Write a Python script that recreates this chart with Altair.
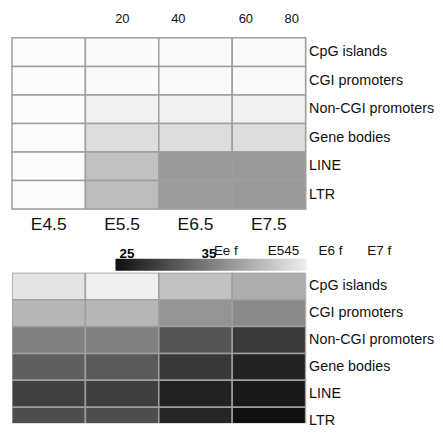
import altair as alt
import pandas as pd

rows = ["CpG islands", "CGI promoters", "Non-CGI promoters", "Gene bodies", "LINE", "LTR"]
stages = ["E4.5", "E5.5", "E6.5", "E7.5"]

# upper heatmap (light = low)
top_vals = [
    [2.4, 4, 4, 4],
    [2.4, 4, 4, 4],
    [2.4, 10, 10, 10],
    [2.4, 27, 27, 27],
    [2.4, 49, 79, 79],
    [2.4, 52, 78, 79],
]
# lower heatmap (dark = low)
bottom_vals = [
    [45.66, 46.9, 42.12, 40.04],
    [40.98, 40.98, 37.44, 36.40],
    [35.36, 35.36, 30.88, 28.07],
    [31.92, 31.40, 27.87, 25.58],
    [28.70, 28.49, 25.58, 24.64],
    [30.16, 30.16, 26.0, 23.81],
]

top_axis_labels = ["20", "40", "60", "80"]
top_axis_offsets = [74, 56.5, 50.6, 23]
bottom_axis_labels = ["Ee f", "E545", "E6 f", "E7 f"]
bottom_axis_offsets = [166, 146.4, 123.6, 98.9]
bottom_legend_values = [25, 35]

FONT = "Liberation Sans"
STROKE = "#9f9f9f"
W = 295


def frame(vals):
    return pd.DataFrame(
        [{"row": r, "stage": s, "v": vals[i][j]} for i, r in enumerate(rows) for j, s in enumerate(stages)]
    )


def label_expr(labels):
    expr = "''"
    for s, lab in reversed(list(zip(stages, labels))):
        expr = f"datum.value === '{s}' ? '{lab}' : ({expr})"
    return expr


def offset_cond(offsets):
    return {
        "condition": [{"test": f"datum.value === '{s}'", "value": o} for s, o in zip(stages[:-1], offsets[:-1])],
        "value": offsets[-1],
    }


y_axis = alt.Axis(orient="right", title=None, ticks=False, domain=False, labelFontSize=14.4,
                  labelPadding=3, labelColor="#111", labelFont=FONT, labelLimit=300)

df_top = frame(top_vals)
df_bottom = frame(bottom_vals)

rect_top = alt.Chart(df_top).mark_rect(stroke=STROKE, strokeWidth=1.5).encode(
    x=alt.X("stage:N", sort=stages, scale=alt.Scale(paddingInner=0, paddingOuter=0),
            axis=alt.Axis(orient="bottom", title=None, ticks=False, domain=False, labelAngle=0,
                          labelFontSize=17.5, labelPadding=7, labelColor="#111", labelFont=FONT)),
    y=alt.Y("row:N", sort=rows, scale=alt.Scale(paddingInner=0, paddingOuter=0), axis=y_axis),
    color=alt.Color("v:Q", scale=alt.Scale(domain=[0, 80], range=["#ffffff", "#999999"],
                                           interpolate="rgb", clamp=True), legend=None),
)

labels_top = alt.Chart(df_top).mark_rect(opacity=0).encode(
    x=alt.X("stage:N", sort=stages, scale=alt.Scale(paddingInner=0, paddingOuter=0),
            axis=alt.Axis(orient="top", title=None, ticks=False, domain=False, labelAngle=0,
                          labelExpr=label_expr(top_axis_labels), labelOffset=offset_cond(top_axis_offsets),
                          labelFontSize=13, labelPadding=12, labelColor="#111", labelFont=FONT)),
    y=alt.Y("row:N", sort=rows, scale=alt.Scale(paddingInner=0, paddingOuter=0), axis=y_axis),
)

top = alt.layer(rect_top, labels_top).resolve_scale(x="independent").resolve_axis(x="independent").properties(
    width=W, height=172)

bottom = alt.Chart(df_bottom).mark_rect(stroke=STROKE, strokeWidth=1.5, clip=True).encode(
    x=alt.X("stage:N", sort=stages, scale=alt.Scale(paddingInner=0, paddingOuter=0),
            axis=alt.Axis(orient="top", title=None, ticks=False, domain=False, labelAngle=0,
                          labelExpr=label_expr(bottom_axis_labels), labelAlign="left",
                          labelOffset=offset_cond(bottom_axis_offsets),
                          labelFontSize=13.5, labelPadding=15, labelColor="#111", labelFont=FONT)),
    y=alt.Y("row:N", sort=rows,
            scale=alt.Scale(paddingInner=0, paddingOuter=0, range=[0, {"expr": "162"}]), axis=y_axis),
    color=alt.Color("v:Q", scale=alt.Scale(domain=[23.6, 46.9], range=["#0f0f0f", "#efefef"],
                                           interpolate="rgb", clamp=True),
                    legend=alt.Legend(orient="none", legendX=104, legendY=-14, direction="horizontal",
                                      gradientLength=192, gradientThickness=12, values=bottom_legend_values,
                                      labelFontWeight="bold", labelFontSize=13.5, labelOffset={"expr": "-24"},
                                      labelColor="#000", labelFont=FONT, title=None, padding=0,
                                      gradientStrokeWidth=0)),
).properties(width=W, height=151)

chart = alt.vconcat(top, bottom, spacing=64, bounds="flush").resolve_scale(color="independent").properties(
    padding={"left": 2, "top": 3, "right": 0, "bottom": 0},
).configure_view(stroke=None).configure(font=FONT)

chart.save("out.html", embed_options={"renderer": "svg", "actions": False})
